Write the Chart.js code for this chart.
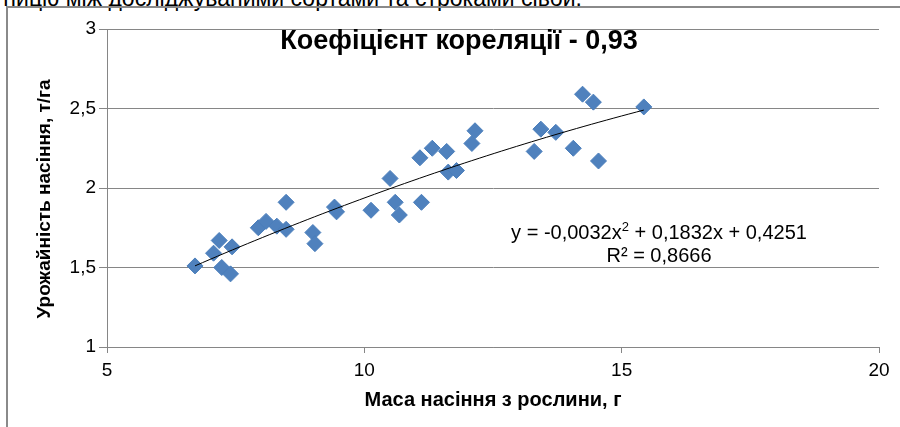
<!DOCTYPE html>
<html>
<head>
<meta charset="utf-8">
<script src="https://cdn.jsdelivr.net/npm/chart.js@4.4.0/dist/chart.umd.min.js"></script>
<style>
  body { margin: 0; background: #fff; }
  #wrap { position: relative; width: 900px; height: 427px; overflow: hidden; }
  #frame { position: absolute; left: 6px; top: 6px; right: -10px; bottom: -10px;
           border-left: 2px solid #8a8a8a; border-top: 2px solid #8a8a8a; }
  #above { position: absolute; top: -13px; right: 318px; white-space: nowrap;
           font: 23px/22px "Liberation Sans", Arial, sans-serif; color: #000; }
  canvas { position: absolute; left: 0; top: 0; }
</style>
</head>
<body>
<div id="wrap">
  <div id="above">ницю між досліджуваними сортами та строками сівби.</div>
  <div id="frame"></div>
  <canvas id="corrChart" width="900" height="427"></canvas>
</div>
<script>
// --- data ---
const seedMass = [6.71, 7.07, 7.18, 7.23, 7.40, 7.43, 7.94, 8.09, 8.30, 8.48, 8.48, 9.00, 9.04, 9.42, 9.46,
  10.13, 10.50, 10.60, 10.68, 11.08, 11.11, 11.32, 11.60, 11.63, 11.79, 12.09, 12.15,
  13.30, 13.43, 13.72, 14.06, 14.24, 14.45, 14.55, 15.43];
const seedYield = [1.51, 1.59, 1.67, 1.50, 1.46, 1.63, 1.75, 1.79, 1.76, 1.91, 1.74, 1.72, 1.65, 1.88, 1.85,
  1.86, 2.06, 1.91, 1.83, 2.19, 1.91, 2.25, 2.23, 2.10, 2.11, 2.28, 2.36,
  2.23, 2.37, 2.35, 2.25, 2.59, 2.54, 2.17, 2.51];
const xTickLabels = ['5', '10', '15', '20'];
const yTickLabels = ['1', '1,5', '2', '2,5', '3'];
// polynomial trendline as printed: c0 + c1*x + c2*x^2
const trendCoef = [0.4251, 0.1832, -0.0032];
const chartTitle = 'Коефіцієнт кореляції - 0,93';
const yAxisTitle = 'Урожайність насіння, т/га';
const eqLine1 = ['y = -0,0032x', '2', ' + 0,1832x + 0,4251'];
const eqLine2 = 'R² = 0,8666';

const FONT = '"Liberation Sans", Arial, sans-serif';
const GRID = '#868686';

// trendline evaluated over the range of the data
const xMin = Math.min(...seedMass), xMax = Math.max(...seedMass);
const trendPoints = [];
for (let i = 0; i <= 60; i++) {
  const x = xMin + (xMax - xMin) * i / 60;
  trendPoints.push({ x: x, y: trendCoef[0] + trendCoef[1] * x + trendCoef[2] * x * x });
}

// title, y axis title and equation labels
const textPlugin = {
  id: 'textPlugin',
  afterDatasetsDraw(chart) {
    const ctx = chart.ctx;
    ctx.save();
    ctx.fillStyle = '#000';
    ctx.textBaseline = 'middle';
    ctx.textAlign = 'center';
    ctx.font = 'bold 27px ' + FONT;
    ctx.fillText(chartTitle, 459, 42);

    // y axis title
    ctx.save();
    ctx.translate(45, 199);
    ctx.rotate(-Math.PI / 2);
    ctx.font = 'bold 19px ' + FONT;
    ctx.fillText(yAxisTitle, 0, 0);
    ctx.restore();

    // equation line with superscript
    ctx.textAlign = 'left';
    const big = '20px ' + FONT, small = '13px ' + FONT;
    ctx.font = big;
    const w1 = ctx.measureText(eqLine1[0]).width;
    const w3 = ctx.measureText(eqLine1[2]).width;
    ctx.font = small;
    const w2 = ctx.measureText(eqLine1[1]).width;
    let x = 659 - (w1 + w2 + w3) / 2;
    ctx.font = big;
    ctx.fillText(eqLine1[0], x, 233);
    ctx.font = small;
    ctx.fillText(eqLine1[1], x + w1, 227);
    ctx.font = big;
    ctx.fillText(eqLine1[2], x + w1 + w2, 233);

    ctx.textAlign = 'center';
    ctx.fillText(eqLine2, 659, 256);
    ctx.restore();
  }
};

const ctx = document.getElementById('corrChart').getContext('2d');
new Chart(ctx, {
  type: 'scatter',
  data: {
    datasets: [{
      data: seedMass.map((m, i) => ({ x: m, y: seedYield[i] })),
      pointStyle: 'rectRot',
      pointRadius: 8,
      pointHoverRadius: 8,
      backgroundColor: '#4F81BD',
      borderColor: '#4A7EBB',
      borderWidth: 1,
      order: 2
    }, {
      type: 'line',
      data: trendPoints,
      borderColor: '#000',
      borderWidth: 1,
      pointRadius: 0,
      fill: false,
      order: 1
    }]
  },
  options: {
    responsive: false,
    animation: false,
    layout: { padding: { top: 29, right: 21, left: 0, bottom: 0 } },
    plugins: {
      legend: { display: false },
      tooltip: { enabled: false }
    },
    scales: {
      x: {
        type: 'linear',
        min: 5,
        max: 20,
        afterFit: s => { s.height = 80; },
        border: { display: true, color: GRID, width: 1 },
        grid: { drawOnChartArea: false, drawTicks: true, tickLength: 6, color: GRID },
        ticks: {
          stepSize: 5,
          padding: 6,
          color: '#000',
          font: { family: FONT, size: 19 },
          callback: (v, i) => xTickLabels[i]
        },
        title: {
          display: true,
          text: 'Маса насіння з рослини, г',
          color: '#000',
          font: { family: FONT, size: 20, weight: 'bold' },
          padding: { top: 0, bottom: 15 }
        }
      },
      y: {
        min: 1,
        max: 3,
        afterFit: s => { s.width = 107; },
        border: { display: true, color: GRID, width: 1 },
        grid: { color: GRID, drawTicks: true, tickLength: 8 },
        ticks: {
          stepSize: 0.5,
          padding: 3,
          color: '#000',
          font: { family: FONT, size: 19 },
          callback: (v, i) => yTickLabels[i]
        }
      }
    }
  },
  plugins: [textPlugin]
});
</script>
</body>
</html>
